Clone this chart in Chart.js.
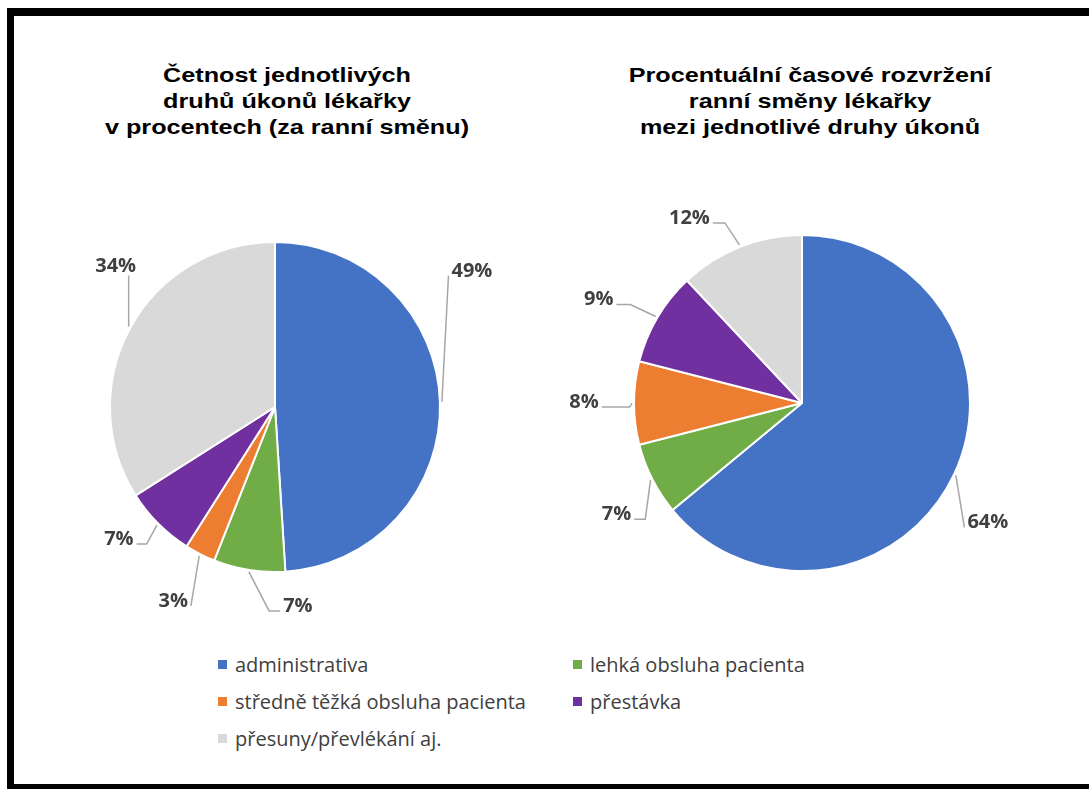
<!DOCTYPE html>
<html>
<head>
<meta charset="utf-8">
<script src="https://cdn.jsdelivr.net/npm/chart.js@4.4.1/dist/chart.umd.min.js"></script>
<style>
  body { margin: 0; background: #fff; width: 1089px; height: 789px; overflow: hidden; position: relative; }
  .frame { position: absolute; left: 7px; top: 8px; width: 1100px; height: 768px;
           border-top: 8px solid #000; border-left: 7px solid #000; border-bottom: 8px solid #000; }
  .title { position: absolute; width: 480px; text-align: center; font: bold 21px "Liberation Sans", Arial, sans-serif;
           line-height: 26px; color: #000; transform: scaleX(1.2); transform-origin: center; white-space: nowrap; }
  canvas { position: absolute; }
  #legend { position: absolute; left: 218px; top: 650px; display: grid; grid-template-columns: 355px 300px;
            row-gap: 9px; font: 20px "Open Sans", sans-serif; color: #404040; }
  #legend div { display: flex; align-items: center; height: 28px; }
  #legend span { display: inline-block; width: 9px; height: 9px; margin-right: 8px; }
</style>
</head>
<body>
<div class="frame"></div>
<div class="title" style="left:47px; top:62px;">Četnost jednotlivých<br>druhů úkonů lékařky<br>v procentech (za ranní směnu)</div>
<div class="title" style="left:570px; top:62px;">Procentuální časové rozvržení<br>ranní směny lékařky<br>mezi jednotlivé druhy úkonů</div>
<canvas id="freq" width="500" height="454" style="left:25px; top:180px;"></canvas>
<canvas id="time" width="500" height="454" style="left:552px; top:176px;"></canvas>
<div id="legend"></div>
<script>
var categories = ["administrativa", "lehká obsluha pacienta", "středně těžká obsluha pacienta", "přestávka", "přesuny/převlékání aj."];
var frequencyShares = [49, 7, 3, 7, 34];
var timeShares = [64, 7, 8, 9, 12];
var sliceColors = ["#4472C4", "#70AD47", "#ED7D31", "#7030A0", "#D9D9D9"];

// percentage labels outside the pie, joined to their slice by a leader line
var outsideLabels = {
    id: "outsideLabels",
    afterDatasetsDraw: function(chart, args, opts) {
        var ctx = chart.ctx;
        var meta = chart.getDatasetMeta(0);
        var values = chart.data.datasets[0].data;
        ctx.save();
        ctx.font = 'bold 20px "Open Sans", sans-serif';
        meta.data.forEach(function(arc, i) {
            var place = opts.places[i];
            var mid = (arc.startAngle + arc.endAngle) / 2;
            var r = arc.outerRadius + 2;
            var ax = arc.x + Math.cos(mid) * r;
            var ay = arc.y + Math.sin(mid) * r;
            var lx = ax + place.dx, ly = ay + place.dy;
            var text = values[i] + "%";
            var w = ctx.measureText(text).width;
            var left = lx - w / 2, right = lx + w / 2;
            var ex, ey, kx;
            if (place.side === "bottom") {
                ex = Math.min(Math.max(ax, left), right); ey = ly + 11; kx = ex;
            } else if (place.side === "left") {
                ex = left - 3; ey = ly + 6; kx = ex - place.elbow;
            } else {
                ex = right + 3; ey = ly + 6; kx = ex + place.elbow;
            }
            ctx.strokeStyle = "#a6a6a6";
            ctx.lineWidth = 1.5;
            ctx.beginPath();
            ctx.moveTo(ax, ay);
            ctx.lineTo(kx, ey);
            ctx.lineTo(ex, ey);
            ctx.stroke();
            ctx.fillStyle = "#404040";
            ctx.textAlign = "center";
            ctx.textBaseline = "alphabetic";
            ctx.fillText(text, lx, ly + 7);
        });
        ctx.restore();
    }
};

function makePie(id, values, radius, places) {
    var ctx = document.getElementById(id).getContext("2d");
    return new Chart(ctx, {
        type: "pie",
        data: {
            labels: categories,
            datasets: [{
                data: values,
                backgroundColor: sliceColors,
                borderColor: "#ffffff",
                borderWidth: 2
            }]
        },
        options: {
            responsive: false,
            animation: false,
            radius: radius,
            plugins: {
                legend: { display: false },
                tooltip: { enabled: false },
                outsideLabels: { places: places }
            }
        },
        plugins: [outsideLabels]
    });
}

makePie("freq", frequencyShares, 165, [
    { dx: 30, dy: -132, side: "left", elbow: 0 },
    { dx: 49, dy: 33, side: "left", elbow: 11 },
    { dx: -26, dy: 44, side: "right", elbow: 0 },
    { dx: -38, dy: 13, side: "right", elbow: 10 },
    { dx: -13, dy: -62, side: "bottom", elbow: 0 }
]);

makePie("time", timeShares, 168, [
    { dx: 32, dy: 46, side: "left", elbow: 0 },
    { dx: -34, dy: 33, side: "right", elbow: 11 },
    { dx: -48, dy: -2, side: "right", elbow: 28 },
    { dx: -57, dy: -18, side: "right", elbow: 14 },
    { dx: -50, dy: -28, side: "right", elbow: 12 }
]);

// shared legend for both pies, two columns
var legend = document.getElementById("legend");
categories.forEach(function(name, i) {
    var item = document.createElement("div");
    var box = document.createElement("span");
    box.style.background = sliceColors[i];
    item.appendChild(box);
    item.appendChild(document.createTextNode(name));
    legend.appendChild(item);
});
</script>
</body>
</html>
